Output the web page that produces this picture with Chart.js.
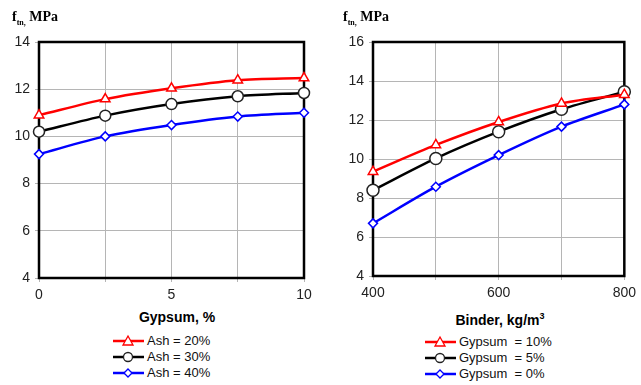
<!DOCTYPE html>
<html>
<head>
<meta charset="utf-8">
<script src="https://cdn.jsdelivr.net/npm/chart.js@4"></script>
<style>
  body { margin: 0; background: #fff; width: 641px; height: 385px; position: relative; overflow: hidden;
         font-family: "Liberation Sans", Arial, sans-serif; }
  .box { position: absolute; top: 0; height: 300px; }
  .ytitle { position: absolute; font-family: "Liberation Serif", "Times New Roman", serif; font-weight: bold; font-size: 14px; }
  .ytitle sub { font-size: 8px; }
  .xtitle { position: absolute; font-weight: bold; font-size: 14px; transform: translateX(-50%); white-space: nowrap; }
  .legend { position: absolute; font-size: 13px; color: #111; }
  .legend div { height: 16px; line-height: 16px; white-space: pre; display: flex; align-items: center; }
  .legend svg { margin-right: 3px; }
</style>
</head>
<body>
<div class="box" style="left:0;width:320px"><canvas id="left"></canvas></div>
<div class="box" style="left:320px;width:321px"><canvas id="right"></canvas></div>

<div class="ytitle" style="left:12px;top:9px">f<sub>tn,</sub> MPa</div>
<div class="ytitle" style="left:343px;top:9px">f<sub>tn,</sub> MPa</div>
<div class="xtitle" style="left:177px;top:309px">Gypsum, %</div>
<div class="xtitle" style="left:500px;top:311px">Binder, kg/m<sup style="font-size:9px">3</sup></div>
<div class="legend" id="legLeft" style="left:113px;top:333px"></div>
<div class="legend" id="legRight" style="left:425px;top:334px"></div>

<script>
// Daten links: Gipsgehalt
const gypsumX = [0, 2.5, 5, 7.5, 10];
const ash20 = [10.9, 11.58, 12.04, 12.38, 12.47];
const ash30 = [10.2, 10.88, 11.37, 11.7, 11.84];
const ash40 = [9.25, 10.0, 10.48, 10.84, 11.0];
const leftLabels = ["Ash = 20%", "Ash = 30%", "Ash = 40%"];

// Daten rechts: Bindemittel
const binderX = [400, 500, 600, 700, 800];
const gyp10 = [9.35, 10.72, 11.9, 12.85, 13.3];
const gyp5 = [8.4, 10.03, 11.4, 12.55, 13.45];
const gyp0 = [6.7, 8.58, 10.2, 11.66, 12.8];
const rightLabels = ["Gypsum  = 10%", "Gypsum  = 5%", "Gypsum  = 0%"];

const colors = ["#ff0000", "#000000", "#0000ff"];
const styles = ["triangle", "circle", "rectRot"];

function toPoints(xs, ys) {
    return xs.map((x, i) => ({ x: x, y: ys[i] }));
}

// Rahmen um die Zeichenfläche
const frame = {
    id: "frame",
    beforeDatasetsDraw(chart) {
        const a = chart.chartArea;
        const c = chart.ctx;
        c.save();
        c.strokeStyle = "#000";
        c.lineWidth = 2.5;
        c.strokeRect(a.left, a.top, a.right - a.left, a.bottom - a.top);
        c.restore();
    }
};

function makeChart(id, xs, series, labels, opt) {
    const datasets = series.map((ys, i) => ({
        label: labels[i],
        data: toPoints(xs, ys),
        borderColor: colors[i],
        borderWidth: 2.5,
        backgroundColor: "#fff",
        pointStyle: styles[i],
        pointRadius: i === 1 ? opt.circle : (i === 2 ? 4.5 : 5.5),
        pointBorderColor: i === 1 ? "#222" : colors[i],
        pointBorderWidth: 1.5,
        tension: 0.3,
        clip: false
    }));
    const grid = { color: "#b5b5b5", borderDash: [2, 2], tickLength: 4, drawTicks: true };
    const tickFont = { family: "Liberation Sans", size: 14 };
    return new Chart(document.getElementById(id), {
        type: "line",
        data: { datasets: datasets },
        options: {
            responsive: false,
            animation: false,
            layout: { padding: { top: 42, right: opt.padRight, left: 0, bottom: 0 } },
            plugins: { legend: { display: false }, tooltip: { enabled: false } },
            scales: {
                x: {
                    type: "linear", min: opt.xMin, max: opt.xMax,
                    grid: grid, border: { display: false },
                    ticks: {
                        stepSize: opt.xStep, color: "#222", font: tickFont, padding: 5, autoSkip: false,
                        callback: v => (v % opt.xLabelEvery === 0 ? v : "")
                    },
                    afterFit: s => { s.height = opt.xHeight; }
                },
                y: {
                    min: 4, max: opt.yMax,
                    grid: grid, border: { display: false },
                    ticks: { stepSize: 2, color: "#222", font: tickFont, padding: 5 },
                    afterFit: s => { s.width = opt.yWidth; }
                }
            }
        },
        plugins: [frame]
    });
}

function buildLegend(id, labels) {
    const el = document.getElementById(id);
    labels.forEach((txt, i) => {
        let mark = "";
        if (styles[i] === "triangle") mark = '<polygon points="15,3 20,12 10,12" fill="#fff" stroke="' + colors[i] + '" stroke-width="1.3"/>';
        if (styles[i] === "circle") mark = '<circle cx="15" cy="8" r="4.5" fill="#fff" stroke="#222" stroke-width="1.3"/>';
        if (styles[i] === "rectRot") mark = '<polygon points="15,4 19,8 15,12 11,8" fill="#fff" stroke="' + colors[i] + '" stroke-width="1.3"/>';
        const row = document.createElement("div");
        row.innerHTML = '<svg width="31" height="16"><line x1="0" y1="8" x2="31" y2="8" stroke="' + colors[i] +
            '" stroke-width="2.5"/>' + mark + '</svg>' + txt;
        el.appendChild(row);
    });
}

const lc = document.getElementById("left");
lc.width = 320; lc.height = 300;
const rc = document.getElementById("right");
rc.width = 321; rc.height = 300;

makeChart("left", gypsumX, [ash20, ash30, ash40], leftLabels,
    { xMin: 0, xMax: 10, xStep: 2.5, xLabelEvery: 5, yMax: 14, padRight: 16, xHeight: 22, yWidth: 39, circle: 5.5 });
makeChart("right", binderX, [gyp10, gyp5, gyp0], rightLabels,
    { xMin: 400, xMax: 800, xStep: 100, xLabelEvery: 200, yMax: 16, padRight: 12, xHeight: 24, yWidth: 53, circle: 6 });

buildLegend("legLeft", leftLabels);
buildLegend("legRight", rightLabels);
</script>
</body>
</html>
